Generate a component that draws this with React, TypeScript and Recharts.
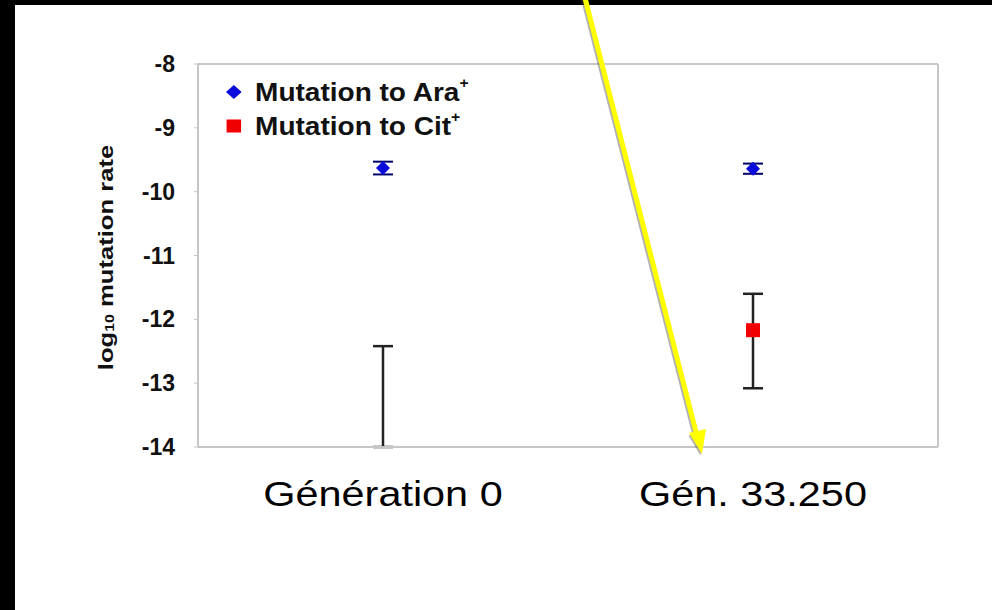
import React from "react"
import { ComposedChart, Scatter, ErrorBar, XAxis, YAxis, Legend } from "recharts"

// values (log10 mutation rate)
const categories = ["Génération 0", "Gén. 33.250"]
const araRate = [-9.63, -9.64]
const araError = [
    [0.1, 0.1],
    [0.08, 0.08],
]
const citRate = [null, -12.17]
const citError = [null, [0.91, 0.57]]
// Cit+ at generation 0 lies below the plotted range: only its upper whisker shows, from the axis floor
const citFloor = [-14, null]
const citFloorError = [[0, 1.58], null]
const yTicks = [-14, -13, -12, -11, -10, -9, -8]
const seriesNames = ["Mutation to Ara+", "Mutation to Cit+"]

const data = categories.map((name, i) => ({
    name,
    ara: araRate[i],
    araErr: araError[i],
    cit: citRate[i],
    citErr: citError[i],
    citLow: citFloor[i],
    citLowErr: citFloorError[i],
}))

const FONT = '"Liberation Sans", Arial, sans-serif'
const FRAME = "#c6c6c6"
const BLUE = "#0a0adc"
const RED = "#f00000"

const Diamond = (props: any) => {
    const { cx, cy } = props
    if (cx == null || cy == null) return null
    const r = 7
    return <polygon points={`${cx},${cy - r} ${cx + r},${cy} ${cx},${cy + r} ${cx - r},${cy}`} fill={BLUE} />
}

const Square = (props: any) => {
    const { cx, cy } = props
    if (cx == null || cy == null) return null
    return <rect x={cx - 7} y={cy - 7} width={14} height={14} fill={RED} />
}

const NoMark = () => <g />

const XTick = (props: any) => {
    const { x, y, payload } = props
    return (
        <text
            transform={`translate(${x},${y}) scale(1.15,1)`}
            textAnchor="middle"
            dy="0.71em"
            fontFamily={FONT}
            fontSize={36}
            fill="#000"
        >
            {payload.value}
        </text>
    )
}

const YLabel = (props: any) => {
    const { viewBox } = props
    const cx = viewBox.x + 106
    const cy = viewBox.y + viewBox.height / 2 + 2
    return (
        <text
            transform={`translate(${cx},${cy}) rotate(-90) scale(1.22,1)`}
            textAnchor="middle"
            dominantBaseline="central"
            fontFamily={FONT}
            fontWeight="bold"
            fontSize={21}
            fill="#111"
        >
            log
            <tspan fontSize={13} dy={4}>
                10
            </tspan>
            <tspan dy={-4}> mutation rate</tspan>
        </text>
    )
}

const renderLegend = (props: any) => {
    const { payload } = props
    return (
        <div
            style={{
                fontFamily: FONT,
                fontWeight: "bold",
                fontSize: 25,
                color: "#111",
                transform: "scaleX(1.12)",
                transformOrigin: "left",
            }}
        >
            {payload
                .filter((entry: any) => entry.type !== "none")
                .map((entry: any) => {
                    const label = String(entry.value)
                    const base = label.endsWith("+") ? label.slice(0, -1) : label
                    return (
                        <div key={label} style={{ display: "flex", alignItems: "center", height: 34, whiteSpace: "nowrap" }}>
                            <svg width={14} height={14} style={{ marginRight: 12 }}>
                                {entry.type === "diamond" ? (
                                    <polygon points="7,0 14,7 7,14 0,7" fill={entry.color} />
                                ) : (
                                    <rect x={0.5} y={0.5} width={13} height={13} fill={entry.color} />
                                )}
                            </svg>
                            <span>
                                {base}
                                {label.endsWith("+") && (
                                    <span style={{ fontSize: 14, verticalAlign: "top", position: "relative", top: -3 }}>+</span>
                                )}
                            </span>
                        </div>
                    )
                })}
        </div>
    )
}

// yellow pointer arrow drawn over the slide
const Arrow = () => (
    <svg width={992} height={610} style={{ position: "absolute", left: 0, top: 0, pointerEvents: "none" }}>
        <g transform="translate(-1.5,1.5)" opacity={0.45}>
            <line x1={585} y1={-2} x2={697} y2={436} stroke="#555" strokeWidth={5} />
            <polygon points="702,454 690,434 705,430" fill="#555" />
        </g>
        <line x1={585} y1={-2} x2={697} y2={436} stroke="#ffff00" strokeWidth={5} />
        <polygon points="702,454 689,433 706,429" fill="#ffff00" />
    </svg>
)

export default function App() {
    return (
        <div style={{ position: "absolute", left: 0, top: 0, width: 992, height: 610, background: "#000", overflow: "hidden" }}>
            <div style={{ position: "absolute", left: 15, top: 5, right: 0, bottom: 0, background: "#fff" }} />
            <div style={{ position: "absolute", left: 0, top: 0 }}>
                <ComposedChart width={992} height={610} data={data} margin={{ top: 63, right: 53, bottom: 63, left: 0 }}>
                    <XAxis
                        dataKey="name"
                        scale="band"
                        height={100}
                        axisLine={{ stroke: FRAME, strokeWidth: 2 }}
                        tickLine={false}
                        tickSize={0}
                        tickMargin={33}
                        tick={<XTick />}
                    />
                    <XAxis
                        xAxisId="top"
                        dataKey="name"
                        scale="band"
                        orientation="top"
                        height={1}
                        tick={false}
                        tickLine={false}
                        axisLine={{ stroke: FRAME, strokeWidth: 2 }}
                    />
                    <YAxis
                        type="number"
                        domain={[-14, -8]}
                        ticks={yTicks}
                        allowDataOverflow
                        width={198}
                        axisLine={{ stroke: FRAME, strokeWidth: 2 }}
                        tickLine={{ stroke: FRAME }}
                        tickSize={4}
                        tickMargin={19}
                        tick={{ fontFamily: FONT, fontWeight: "bold", fontSize: 23, fill: "#111" }}
                        label={<YLabel />}
                    />
                    <YAxis
                        yAxisId="right"
                        orientation="right"
                        width={1}
                        domain={[-14, -8]}
                        tick={false}
                        tickLine={false}
                        axisLine={{ stroke: FRAME, strokeWidth: 2 }}
                    />
                    <Legend
                        layout="vertical"
                        align="center"
                        verticalAlign="middle"
                        wrapperStyle={{ top: 75, left: 226, width: "auto" }}
                        content={renderLegend}
                    />
                    <Scatter name={seriesNames[0]} dataKey="ara" fill={BLUE} legendType="diamond" shape={<Diamond />} isAnimationActive={false}>
                        <ErrorBar dataKey="araErr" direction="y" width={10} stroke="#00006a" strokeWidth={2} />
                    </Scatter>
                    <Scatter name={seriesNames[1]} dataKey="cit" fill={RED} legendType="square" shape={<Square />} isAnimationActive={false}>
                        <ErrorBar dataKey="citErr" direction="y" width={10} stroke="#222" strokeWidth={2.5} />
                    </Scatter>
                    <Scatter name="Cit+ floor" dataKey="citLow" legendType="none" shape={<NoMark />} isAnimationActive={false}>
                        <ErrorBar dataKey="citLowErr" direction="y" width={10} stroke="#222" strokeWidth={2.5} />
                    </Scatter>
                </ComposedChart>
            </div>
            <Arrow />
        </div>
    )
}
